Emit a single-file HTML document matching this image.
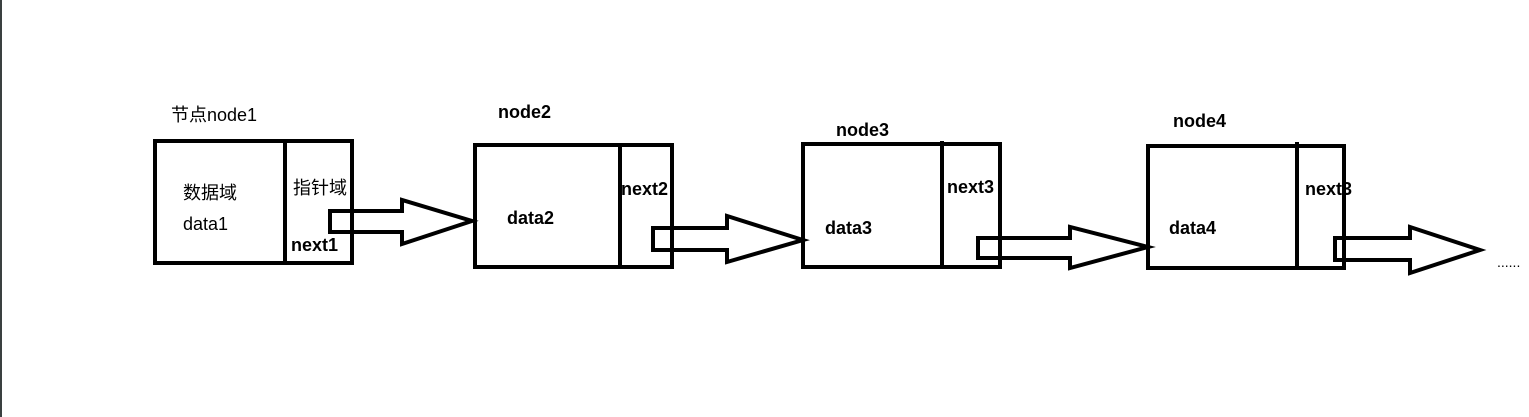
<!DOCTYPE html>
<html><head><meta charset="utf-8"><style>
html,body{margin:0;padding:0;background:#fff;width:1529px;height:417px;overflow:hidden}
svg text{font-family:"Liberation Sans","Noto Sans CJK SC",sans-serif;font-size:18px;fill:#000}
.b{font-weight:bold}
</style></head><body>
<svg width="1529" height="417" viewBox="0 0 1529 417" xmlns="http://www.w3.org/2000/svg">
<rect x="0" y="0" width="2" height="417" fill="#3a4040"/>
<g fill="none" stroke="#000" stroke-width="4" stroke-linejoin="miter">
<rect x="155" y="141" width="197" height="122"/>
<line x1="285" y1="139" x2="285" y2="263"/>
<rect x="475" y="145" width="197" height="122"/>
<line x1="620" y1="145" x2="620" y2="265"/>
<rect x="803" y="144" width="197" height="123"/>
<line x1="942" y1="141" x2="942" y2="267"/>
<rect x="1148" y="146" width="196" height="122"/>
<line x1="1297" y1="142" x2="1297" y2="268"/>
<polygon points="330,211 402,211 402,200 472,221 402,244 402,232 330,232"/>
<polygon points="653,228 727,228 727,216 803,240 727,262 727,250 653,250"/>
<polygon points="978,238 1070,238 1070,227 1148,247 1070,268 1070,258 978,258"/>
<polygon points="1335,238 1410,238 1410,227 1480,250 1410,273 1410,260 1335,260"/>
</g>
<text x="171" y="121">节点node1</text>
<text x="498" y="118" class="b">node2</text>
<text x="836" y="136" class="b">node3</text>
<text x="1173" y="127" class="b">node4</text>
<text x="183" y="199">数据域</text>
<text x="183" y="230">data1</text>
<text x="293" y="194">指针域</text>
<text x="291" y="251" class="b">next1</text>
<text x="621" y="195" class="b">next2</text>
<text x="507" y="224" class="b">data2</text>
<text x="947" y="193" class="b">next3</text>
<text x="825" y="234" class="b">data3</text>
<text x="1305" y="195" class="b">next3</text>
<text x="1169" y="234" class="b">data4</text>
<text x="1497" y="267" style="font-size:14px">......</text>
</svg>
</body></html>
